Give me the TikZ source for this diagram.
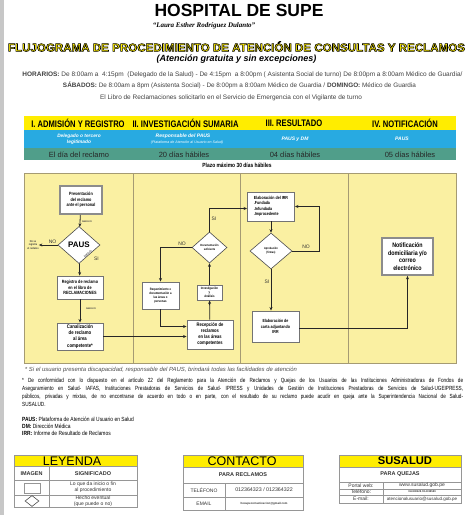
\documentclass[tikz,border=0pt]{standalone}
\usepackage{fontspec}
\setmainfont{Liberation Sans}
\newfontfamily\narrowfont[FakeStretch=0.82]{Liberation Sans}
\newfontfamily\parafont[FakeStretch=0.78]{Liberation Sans}
\newfontfamily\condfont[FakeStretch=0.8]{Liberation Sans}
\newfontfamily\namefont{Liberation Serif}
\usepackage{graphicx}
\usetikzlibrary{arrows.meta,positioning,shapes.geometric}
\definecolor{hdryellow}{RGB}{255,237,0}
\definecolor{hdrblue}{RGB}{40,170,225}
\definecolor{hdrteal}{RGB}{80,158,138}
\definecolor{lanefill}{RGB}{250,240,162}
\definecolor{laneline}{RGB}{165,155,115}
\definecolor{boxline}{RGB}{115,115,115}
\definecolor{tabline}{RGB}{150,150,150}
\newcommand{\fitw}[2]{\resizebox{#1}{!}{#2}}
\newcommand{\titletxt}{\resizebox{457pt}{10pt}{\condfont\bfseries\fontsize{14}{14}\selectfont FLUJOGRAMA DE PROCEDIMIENTO DE ATENCIÓN DE CONSULTAS Y RECLAMOS}}
\tikzset{
  box/.style={draw=boxline,line width=0.9pt,fill=white,align=center,inner sep=1pt,font=\narrowfont\bfseries\fontsize{4.6}{5.6}\selectfont},
  bigbox/.style={box,draw=black!45,line width=1.8pt},
  decision/.style={diamond,draw=black!70,line width=0.6pt,fill=white,align=center,inner sep=0pt,font=\narrowfont\bfseries\fontsize{3}{3.6}\selectfont},
  flow/.style={-{Stealth[length=3.5pt,width=3pt]},line width=0.8pt,draw=black!85},
  thickflow/.style={flow,line width=1.7pt},
  lbl/.style={font=\fontsize{5}{6}\selectfont,inner sep=1pt,text=black!80},
  tinylbl/.style={font=\narrowfont\bfseries\fontsize{2.2}{2.6}\selectfont,inner sep=0pt,text=black!75},
  phase/.style={font=\condfont\bfseries\fontsize{9.5}{10}\selectfont,inner sep=0pt},
  bluetxt/.style={text=white,align=center,inner sep=0pt,font=\bfseries\itshape\fontsize{5}{6}\selectfont},
  tealtxt/.style={text=black!85,inner sep=0pt,font=\fontsize{7.5}{8}\selectfont},
  lane/.style={draw=laneline,line width=0.6pt,fill=lanefill},
  cell/.style={draw=tabline,line width=0.5pt},
  celltxt/.style={text=black!80,inner sep=0pt,align=center,font=\fontsize{5}{5.6}\selectfont},
}
\begin{document}
\begin{tikzpicture}[x=1pt,y=-1pt]
\useasboundingbox (0,0) rectangle (474,515);
\fill[black!22] (0,0) rectangle (4,515);

% encabezado
\node (hosp) at (239,10) {\bfseries\fontsize{17.5}{18}\selectfont HOSPITAL DE SUPE};
\node (laura) at (204,26) {\namefont\bfseries\itshape\fontsize{7}{8}\selectfont “Laura Esther Rodríguez Dulanto”};
\node[text=hdryellow,inner sep=0pt] (title) at (236.5,46.5) {\special{pdf:literal direct 2 Tr 0.6 w 0 0 0 RG}\titletxt\special{pdf:literal direct 0 Tr}};
\node[inner sep=0pt] (gratis) at (236.5,59.5) {\bfseries\itshape\fontsize{9}{10}\selectfont (Atención gratuita y sin excepciones)};
\node[text=black!75] (hor1) at (242.5,75) {\fitw{440pt}{\fontsize{6}{7}\selectfont\textbf{HORARIOS:} De 8:00am a \ 4:15pm \ (Delegado de la Salud) - De 4:15pm \ a 8:00pm ( Asistenta Social de turno) De 8:00pm a 8:00am Médico de Guardia/}};
\node[text=black!75] (hor2) at (239.5,85.5) {\fitw{353pt}{\fontsize{6}{7}\selectfont\textbf{SÁBADOS:} De 8:00am a 8pm (Asistenta Social) - De 8:00pm a 8:00am Médico de Guardia / \textbf{DOMINGO:} Médico de Guardia}};
\node[text=black!75] (libro) at (231,98) {\fitw{262pt}{\fontsize{6}{7}\selectfont El Libro de Reclamaciones solicitarlo en el Servicio de Emergencia con el Vigilante de turno}};

% fases
\fill[hdryellow] (24,116) rectangle (456,130);
\fill[hdrblue] (24,130) rectangle (456,148);
\fill[hdrteal] (24,148) rectangle (456,160);
\node[phase] (ph1) at (78,123) {I. ADMISIÓN Y REGISTRO};
\node[phase] (ph2) at (185.5,123) {II. INVESTIGACIÓN SUMARIA};
\node[phase] (ph3) at (294,123) {III. RESULTADO};
\node[phase] (ph4) at (405,123) {IV. NOTIFICACIÓN};
\node[bluetxt,font=\bfseries\itshape\fontsize{4.8}{5.8}\selectfont] (who1) at (79,139) {Delegado o tercero\\legitimado};
\node[bluetxt] (who2) at (183,136) {Responsable del PAUS};
\node[bluetxt,font=\itshape\fontsize{3.6}{4}\selectfont] (who2b) at (187,142.5) {(Plataforma de Atención al Usuario en Salud)};
\node[bluetxt] (who3) at (295,139) {PAUS y DM};
\node[bluetxt] (who4) at (402,139) {PAUS};
\node[tealtxt] (t1) at (79,154.5) {El día del reclamo};
\node[tealtxt] (t2) at (184,155) {20 días hábiles};
\node[tealtxt] (t3) at (295,155) {04 días hábiles};
\node[tealtxt] (t4) at (410,155) {05 días hábiles};
\node[font=\narrowfont\bfseries\fontsize{6}{7}\selectfont,inner sep=0pt] (plazo) at (237,165.5) {Plazo máximo 30 días hábiles};

% carriles
\draw[lane] (24,173) rectangle (133,363);
\draw[lane] (133,173) rectangle (240,363);
\draw[lane] (240,173) rectangle (348,363);
\draw[lane] (348,173) rectangle (456,363);

% I. admision
\node[bigbox,minimum width=42pt,minimum height=28pt] (pres) at (81,200) {Presentación\\del reclamo\\ante el personal};
\node[decision,minimum width=42pt,minimum height=37pt,font=\bfseries\fontsize{8}{9}\selectfont] (paus) at (79,245) {PAUS};
\node[tinylbl,align=center,font=\narrowfont\bfseries\fontsize{2.8}{3.3}\selectfont] (noreg) at (33,245) {No se\\registra\\el reclamo};
\node[box,minimum width=46pt,minimum height=23pt] (reg) at (80,287.5) {Registro de reclamo\\en el libro de\\RECLAMACIONES};
\node[box,minimum width=46pt,minimum height=27pt,font=\narrowfont\bfseries\fontsize{5.2}{6.2}\selectfont] (canal) at (80,336.5) {Canalización\\de reclamo\\al área\\competente*};
\node[lbl] (pausno) at (52.5,242) {NO};
\node[lbl] (paussi) at (96.5,259) {SI};
\node[tinylbl] (inm1) at (87,222) {INMEDIATO};
\node[tinylbl,rotate=40] (inm2) at (88,254) {INMEDIATO};
\node[tinylbl] (inm3) at (91,308.5) {INMEDIATO};

% II. investigacion
\node[decision,minimum width=35pt,minimum height=31pt] (docu) at (209.5,247.5) {Documentación\\suficiente};
\node[box,minimum width=37pt,minimum height=27pt,font=\narrowfont\bfseries\fontsize{3.3}{4.2}\selectfont] (req) at (160.5,295.5) {Requerimiento e\\documentación a\\las áreas o\\personas};
\node[box,minimum width=25pt,minimum height=15pt,font=\narrowfont\bfseries\fontsize{3.3}{4}\selectfont] (inv) at (209.5,292.5) {Investigación\\y\\Análisis};
\node[box,minimum width=46pt,minimum height=29pt,font=\narrowfont\bfseries\fontsize{5}{6}\selectfont] (recep) at (210,334.5) {Recepción de\\reclamos\\en las áreas\\competentes};
\node[lbl] (docsi) at (214,219) {SI};
\node[lbl] (docno) at (182,244) {NO};

% III. resultado
\node[box,minimum width=47pt,minimum height=29pt,align=left,font=\narrowfont\bfseries\fontsize{4.4}{5.4}\selectfont] (irr) at (271,206.5) {Elaboración del IRR\\.Fundada\\.Infundada\\.Improcedente};
\node[decision,minimum width=42pt,minimum height=36pt] (apro) at (271,251) {Aprobación\\(firmas)};
\node[box,minimum width=47pt,minimum height=31pt,font=\narrowfont\bfseries\fontsize{4.4}{5.4}\selectfont] (carta) at (275.5,326.5) {Elaboración de\\carta adjuntando\\IRR};
\node[lbl] (aprno) at (306,247) {NO};
\node[lbl] (aprsi) at (267,282) {SI};

% IV. notificacion
\node[bigbox,minimum width=51pt,minimum height=37pt,font=\narrowfont\bfseries\fontsize{6.5}{7.6}\selectfont] (notif) at (407.5,256.5) {Notificación\\domiciliaria y/o\\correo\\electrónico};

% flechas
\draw[flow] (pres) -- (paus);
\draw[flow] (paus.west) -- (noreg.east);
\draw[flow] (paus) -- (reg);
\draw[flow] (reg) -- (canal);
\draw[flow] (canal.east) -- (canal.east -| recep.west);
\draw[thickflow] (req.south) |- ([yshift=8pt]recep.west);
\draw[flow] (recep) -- (inv);
\draw[flow] (inv) -- (docu);
\draw[flow] (docu.north) |- ([yshift=-2pt]irr.west);
\draw[flow] (docu.west) -| (req.north);
\draw[flow] (irr) -- (apro);
\draw[flow] (apro.east) -- ++(27,0) |- (irr.east);
\draw[flow] (apro.south) -- (apro.south |- carta.north);
\draw[flow] ([yshift=-2pt]carta.east) -| (notif.south);

% notas
\node[text=black!70] (nota) at (161,370) {\fitw{272pt}{\itshape\fontsize{6}{7}\selectfont * Si el usuario presenta discapacidad, responsable del PAUS, brindará todas las facilidades de atención}};
\node[anchor=north west,inner sep=0pt,align=left,font=\parafont\fontsize{6}{8}\selectfont,text=black] (ley) at (22,378)
  {\makebox[441pt][s]{* De conformidad con lo dispuesto en el artículo 22 del Reglamento para la Atención de Reclamos y Quejas de los Usuarios de las Instituciones Administradoras de Fondos de}\\
   \makebox[441pt][s]{Aseguramiento en Salud- IAFAS, Instituciones Prestadoras de Servicios de Salud- IPRESS y Unidades de Gestión de Instituciones Prestadoras de Servicios de Salud-UGEIPRESS,}\\
   \makebox[441pt][s]{públicos, privadas y mixtas, de no encontrarse de acuerdo en todo o en parte, con el resultado de su reclamo puede acudir en queja ante la Superintendencia Nacional de Salud-}\\
   SUSALUD.};
\node[anchor=west,inner sep=0pt,font=\narrowfont\fontsize{6}{7}\selectfont] (sig1) at (22,419) {\textbf{PAUS:} Plataforma de Atención al Usuario en Salud};
\node[anchor=west,inner sep=0pt,font=\narrowfont\fontsize{6}{7}\selectfont] (sig2) at (22,426) {\textbf{DM:} Dirección Médica};
\node[anchor=west,inner sep=0pt,font=\narrowfont\fontsize{6}{7}\selectfont] (sig3) at (22,433) {\textbf{IRR:} Informe de Resultado de Reclamos};

% leyenda
\fill[hdryellow] (14,455) rectangle (137,466);
\draw[cell] (14,455) rectangle (137,507);
\draw[cell] (14,466) -- (137,466) (14,480) -- (137,480) (14,495) -- (137,495) (49,466) -- (49,507);
\node[celltxt,text=black,font=\fontsize{12.5}{13}\selectfont] (leyenda) at (72,461) {LEYENDA};
\node[celltxt,font=\bfseries\fontsize{5.5}{6}\selectfont] (imagen) at (31.5,473.5) {IMAGEN};
\node[celltxt,font=\bfseries\fontsize{5.5}{6}\selectfont] (signif) at (93,473.5) {SIGNIFICADO};
\node[draw=tabline,line width=0.6pt,minimum width=16pt,minimum height=10pt,inner sep=0pt] (cuadro) at (32,488) {};
\node[celltxt] (inicio) at (93,487.5) {Lo que da inicio o fin\\al procedimiento};
\node[diamond,draw=black!70,line width=0.6pt,minimum width=14pt,minimum height=11pt,inner sep=0pt] (rombo) at (32,501) {};
\node[celltxt] (evento) at (93,501) {Hecho eventual\\(que puede o no)};

% contacto
\fill[hdryellow] (183,455) rectangle (303,467);
\draw[cell] (183,455) rectangle (303,510);
\draw[cell] (183,467) -- (303,467) (183,483) -- (303,483) (183,497) -- (303,497) (225,483) -- (225,510);
\node[celltxt,text=black,font=\fontsize{12.5}{13}\selectfont] (contacto) at (242,461) {CONTACTO};
\node[celltxt,font=\bfseries\fontsize{5.5}{6}\selectfont] (parar) at (243,475) {PARA RECLAMOS};
\node[celltxt] (telf) at (204,490) {TELÉFONO};
\node[celltxt,font=\fontsize{5.3}{6}\selectfont] (telfnum) at (264,490) {012364323 / 012364322};
\node[celltxt] (email) at (204,503.5) {EMAIL};
\node[celltxt,font=\bfseries\fontsize{2.9}{3.4}\selectfont] (emailtxt) at (264,503.5) {hosupecomunicacion@gmail.com};

% susalud
\fill[hdryellow] (339,455) rectangle (461,467);
\draw[cell] (339,455) rectangle (461,503);
\draw[cell] (339,467) -- (461,467) (339,482) -- (461,482) (339,489) -- (461,489) (339,495) -- (461,495) (383,482) -- (383,503);
\node[celltxt,text=black,font=\bfseries\fontsize{11.2}{12}\selectfont] (susalud) at (405,461) {SUSALUD};
\node[celltxt,font=\bfseries\fontsize{5.5}{6}\selectfont] (paraq) at (400,474.5) {PARA QUEJAS};
\node[celltxt] (portal) at (361,485.5) {Portal web:};
\node[celltxt] (portaltxt) at (422,485.5) {www.susalud.gob.pe};
\node[celltxt] (stel) at (361,492) {Teléfono:};
\node[celltxt,font=\bfseries\fontsize{2.6}{3}\selectfont] (steltxt) at (422,492) {014338528 /014338589};
\node[celltxt] (smail) at (361,499) {E-mail:};
\node[celltxt,font=\fontsize{4.5}{5}\selectfont] (smailtxt) at (422,499) {atencionalusuario@susalud.gob.pe};
\end{tikzpicture}
\end{document}
